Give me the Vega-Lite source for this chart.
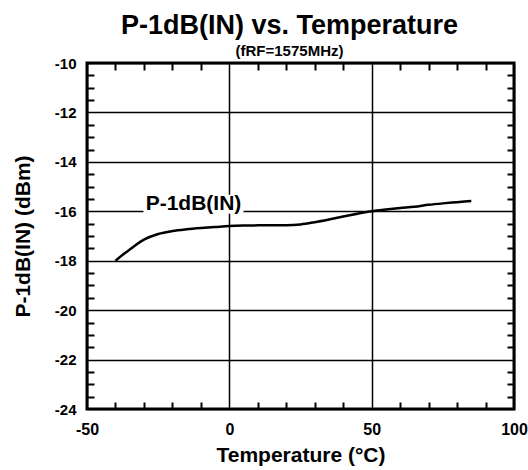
{
  "$schema": "https://vega.github.io/schema/vega-lite/v6.json",
  "width": 427,
  "height": 346,
  "autosize": {"type": "none"},
  "padding": {"left": 87, "top": 63, "right": 14, "bottom": 61},
  "background": "white",
  "config": {
    "font": "Liberation Sans",
    "view": {"stroke": "black", "strokeWidth": 3},
    "axis": {"labelColor": "black", "titleColor": "black", "labelFontWeight": "bold", "titleFontWeight": "bold", "tickColor": "black", "domainColor": "black", "gridColor": "black", "gridOpacity": 1, "labelFlush": false, "labelOverlap": false}
  },
  "title": {
    "text": "P-1dB(IN) vs. Temperature",
    "subtitle": "(fRF=1575MHz)",
    "fontSize": 27,
    "fontWeight": "bold",
    "color": "black",
    "subtitleFontSize": 15,
    "subtitleFontWeight": "bold",
    "subtitleColor": "black",
    "subtitlePadding": 4,
    "anchor": "middle",
    "frame": "group",
    "dx": -11,
    "offset": -4
  },
  "datasets": {
    "curve": [
      {"T": -40, "P": -18.0},
      {"T": -37, "P": -17.72},
      {"T": -35, "P": -17.55},
      {"T": -30, "P": -17.15},
      {"T": -25, "P": -16.92},
      {"T": -20, "P": -16.8},
      {"T": -15, "P": -16.73},
      {"T": -10, "P": -16.68},
      {"T": -5, "P": -16.64},
      {"T": 0, "P": -16.6},
      {"T": 5, "P": -16.58},
      {"T": 10, "P": -16.57},
      {"T": 15, "P": -16.56},
      {"T": 20, "P": -16.56},
      {"T": 25, "P": -16.53},
      {"T": 30, "P": -16.44},
      {"T": 35, "P": -16.33},
      {"T": 40, "P": -16.21},
      {"T": 45, "P": -16.1},
      {"T": 50, "P": -16.0},
      {"T": 55, "P": -15.93},
      {"T": 60, "P": -15.87},
      {"T": 65, "P": -15.82},
      {"T": 70, "P": -15.74},
      {"T": 75, "P": -15.68},
      {"T": 80, "P": -15.63},
      {"T": 85, "P": -15.58}
    ],
    "label": [
      {"T": -12.6, "P": -15.94, "name": "P-1dB(IN)"}
    ]
  },
  "layer": [
    {
      "data": {"name": "curve"},
      "mark": {"type": "line", "color": "black", "strokeWidth": 2.5, "interpolate": "monotone"},
      "encoding": {
        "x": {
          "field": "T", "type": "quantitative",
          "scale": {"domain": [-50, 100], "nice": false, "zero": false},
          "axis": {"orient": "bottom", "values": [-50, 0, 50, 100], "labelExpr": "'' + datum.value", "ticks": false, "domain": false, "grid": true, "gridWidth": 1.5, "labelFontSize": 16, "labelPadding": 12, "title": "Temperature (°C)", "titleFontSize": 21, "titlePadding": 7}
        },
        "y": {
          "field": "P", "type": "quantitative",
          "scale": {"domain": [-24, -10], "nice": false, "zero": false},
          "axis": {"orient": "left", "values": [-24, -22, -20, -18, -16, -14, -12, -10], "labelExpr": "'' + datum.value", "ticks": false, "domain": false, "grid": true, "gridWidth": 1.5, "labelFontSize": 15, "labelPadding": 11, "title": "P-1dB(IN) (dBm)", "titleFontSize": 21, "titlePadding": 21}
        }
      }
    },
    {
      "data": {"name": "label"},
      "mark": {"type": "point", "shape": "M-1,-0.3H1V0.08H-1Z", "size": 10000, "filled": true, "fill": "white", "stroke": null, "opacity": 1},
      "encoding": {
        "x": {
          "field": "T", "type": "quantitative",
          "scale": {"domain": [-50, 100], "nice": false, "zero": false},
          "axis": {"orient": "bottom", "zindex": 1, "values": [-40, -30, -20, -10, 10, 20, 30, 40, 60, 70, 80, 90], "labels": false, "domain": false, "grid": false, "ticks": true, "tickSize": -7, "tickWidth": 2, "tickColor": "#000000", "title": null}
        },
        "y": {
          "field": "P", "type": "quantitative",
          "scale": {"domain": [-24, -10], "nice": false, "zero": false},
          "axis": {"orient": "left", "zindex": 1, "values": [-23.5, -23, -22.5, -21.5, -21, -20.5, -19.5, -19, -18.5, -17.5, -17, -16.5, -15.5, -15, -14.5, -13.5, -13, -12.5, -11.5, -11, -10.5], "labels": false, "domain": false, "grid": false, "ticks": true, "tickSize": -7, "tickWidth": 2, "tickColor": "#000000", "title": null}
        }
      }
    },
    {
      "data": {"name": "label"},
      "mark": {"type": "text", "fontSize": 21, "fontWeight": "bold", "color": "black", "align": "center", "baseline": "alphabetic"},
      "encoding": {
        "x": {
          "field": "T", "type": "quantitative",
          "scale": {"domain": [-50, 100], "nice": false, "zero": false},
          "axis": {"orient": "top", "zindex": 1, "values": [-40, -30, -20, -10, 10, 20, 30, 40, 60, 70, 80, 90], "labels": false, "domain": false, "grid": false, "ticks": true, "tickSize": -7, "tickWidth": 2, "tickColor": "#000000", "title": null}
        },
        "y": {
          "field": "P", "type": "quantitative",
          "scale": {"domain": [-24, -10], "nice": false, "zero": false},
          "axis": {"orient": "right", "zindex": 1, "values": [-23.5, -23, -22.5, -21.5, -21, -20.5, -19.5, -19, -18.5, -17.5, -17, -16.5, -15.5, -15, -14.5, -13.5, -13, -12.5, -11.5, -11, -10.5], "labels": false, "domain": false, "grid": false, "ticks": true, "tickSize": -7, "tickWidth": 2, "tickColor": "#000000", "title": null}
        },
        "text": {"field": "name"}
      }
    }
  ],
  "resolve": {"axis": {"x": "independent", "y": "independent"}}
}
